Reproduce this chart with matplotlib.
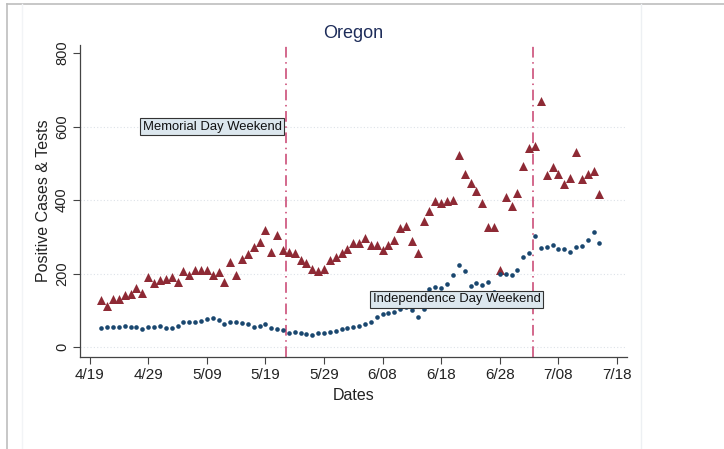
import matplotlib
matplotlib.use("Agg")
import matplotlib.pyplot as plt
import pandas as pd
from matplotlib.lines import Line2D

plt.rcParams['font.family'] = ['Liberation Sans', 'DejaVu Sans']

title = "Oregon"
start_date = "2020-04-21"
tests = [127, 113, 130, 132, 142, 144, 161, 147, 191, 174, 183, 185, 190, 177, 206, 195,
         210, 210, 210, 195, 204, 176, 231, 197, 240, 252, 271, 285, 318, 260, 304, 263,
         259, 257, 238, 228, 213, 208, 213, 238, 245, 255, 267, 282, 284, 297, 279, 278,
         264, 279, 291, 323, 329, 288, 255, 344, 371, 397, 393, 398, 400, 522, 470, 447,
         424, 392, 328, 327, 210, 408, 385, 420, 493, 542, 546, 670, 467, 491, 470, 444,
         459, 532, 457, 472, 480, 417]
cases = [53, 55, 55, 55, 57, 55, 55, 50, 54, 54, 57, 53, 52, 57, 69, 68,
         69, 71, 76, 79, 75, 63, 69, 68, 66, 62, 55, 56, 62, 53, 49, 46,
         39, 42, 37, 35, 33, 37, 38, 42, 45, 50, 52, 54, 56, 63, 69, 81,
         89, 93, 95, 103, 108, 102, 81, 103, 157, 164, 160, 171, 195, 222, 206, 167,
         173, 170, 176, 151, 200, 198, 195, 210, 245, 257, 301, 269, 272, 277, 268, 268,
         258, 273, 275, 290, 313, 282]
event_dates = ["2020-05-22 14:00", "2020-07-03 14:00"]
event_labels = ["Memorial Day Weekend", "Independence Day Weekend"]
event_label_x = ["2020-04-28 02:00", "2020-06-06 08:00"]
event_label_y = [600, 130]
xtick_dates = ["2020-04-19", "2020-04-29", "2020-05-09", "2020-05-19", "2020-05-29",
               "2020-06-08", "2020-06-18", "2020-06-28", "2020-07-08", "2020-07-18"]
xtick_labels = ["4/19", "4/29", "5/09", "5/19", "5/29", "6/08", "6/18", "6/28", "7/08", "7/18"]
ytick_values = [0, 200, 400, 600, 800]
grid_values = [0, 200, 400, 600]

dates = pd.date_range(start_date, periods=len(tests), freq="D")

fig = plt.figure(figsize=(7.24, 4.49), dpi=100)
ax = fig.add_axes([0.1105, 0.2049, 0.7555, 0.6950])

# outer frame lines (screenshot borders)
fig.add_artist(Line2D([7/724, 1], [1-4/449, 1-4/449], color='#BDBDBD', lw=1.2, transform=fig.transFigure))
fig.add_artist(Line2D([7/724, 7/724], [0, 1-4/449], color='#BDBDBD', lw=1.2, transform=fig.transFigure))
fig.add_artist(Line2D([641/724, 641/724], [0, 1-4/449], color='#EDF0F3', lw=1.0, transform=fig.transFigure))
fig.add_artist(Line2D([22/724, 22/724], [0, 1-4/449], color='#F2F4F6', lw=1.0, transform=fig.transFigure))

for g in grid_values:
    ax.axhline(g, color='#DDE2E8', lw=0.8, ls=(0, (1, 2)), zorder=0)

ax.scatter(dates, tests, marker='^', s=42, color='#8E2A35', linewidths=0, zorder=3)
ax.scatter(dates, cases, marker='o', s=11, color='#1A476F', linewidths=0, zorder=3)

for d in event_dates:
    ax.axvline(pd.Timestamp(d), color='#C8406E', lw=1.1, ls=(0, (7, 3, 1, 3)), zorder=2)

for lx, ly, lab in zip(event_label_x, event_label_y, event_labels):
    ax.text(pd.Timestamp(lx), ly, lab, ha='left', va='center', fontsize=9.4, color='#111111',
            bbox=dict(boxstyle='square,pad=0.2', facecolor='#DCE7EE', edgecolor='#333333', lw=0.8),
            zorder=4)

x0 = pd.Timestamp("2020-04-19")
ax.set_xlim(x0 - pd.Timedelta(days=1.64), x0 + pd.Timedelta(days=91.7))
ax.set_ylim(-27, 822)

ax.set_xticks([pd.Timestamp(t) for t in xtick_dates])
ax.set_xticklabels(xtick_labels, fontsize=11, color='#222222')
ax.set_yticks(ytick_values)
ax.set_yticklabels([str(v) for v in ytick_values], fontsize=10.5, color='#222222',
                   rotation=90, va='center')
ax.tick_params(axis='both', direction='out', length=5, width=0.8, color='#444444')
ax.tick_params(axis='x', pad=3)
ax.tick_params(axis='y', pad=3)

for s in ['top', 'right']:
    ax.spines[s].set_visible(False)
for s in ['left', 'bottom']:
    ax.spines[s].set_color('#444444')
    ax.spines[s].set_linewidth(0.9)

ax.set_xlabel("Dates", fontsize=11.5, color='#222222', labelpad=4)
ax.set_ylabel("Positive Cases & Tests", fontsize=11.5, color='#222222', labelpad=3)
ax.set_title(title, fontsize=13, color='#1E2D5A', pad=5)

fig.savefig("out.png", dpi=100, facecolor='white')
